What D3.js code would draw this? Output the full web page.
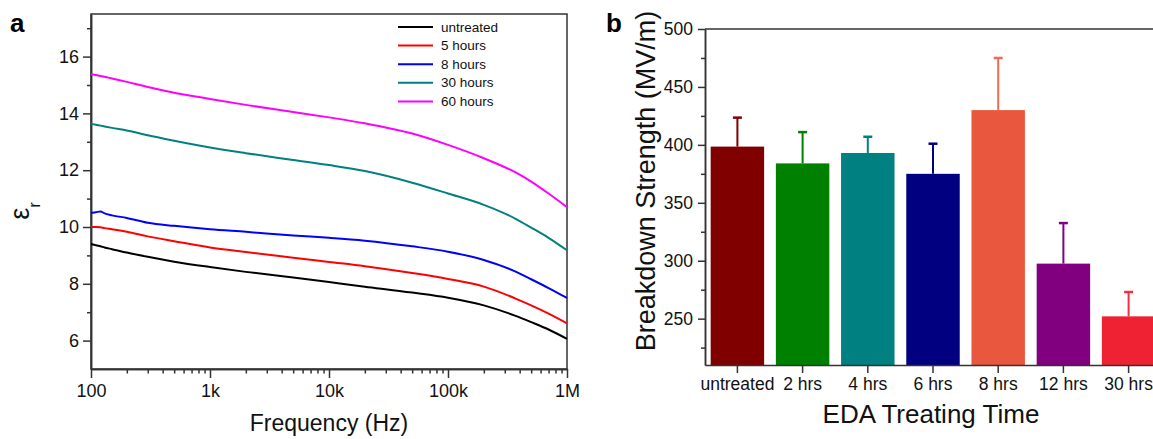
<!DOCTYPE html>
<html>
<head>
<meta charset="utf-8">
<script src="https://cdn.jsdelivr.net/npm/d3@7"></script>
<style>
  body { margin: 0; background: #fff; }
  svg { display: block; font-family: "Liberation Sans", Arial, sans-serif; }
</style>
</head>
<body>
<svg id="chart" width="1153" height="439"></svg>
<script>
// Panel a: relative permittivity vs frequency
var freqs = [100, 110, 120, 130, 150, 200, 300, 500, 1e3, 2e3, 5e3, 1e4, 2e4, 5e4, 1e5, 2e5, 3.7e5, 5e5, 7e5, 1e6];
var untreated = [9.40, 9.36, 9.32, 9.28, 9.22, 9.10, 8.95, 8.78, 8.59, 8.42, 8.22, 8.06, 7.90, 7.69, 7.51, 7.24, 6.87, 6.65, 6.39, 6.06];
var hours5 = [10.00, 10.00, 9.99, 9.96, 9.92, 9.83, 9.67, 9.50, 9.28, 9.12, 8.92, 8.77, 8.62, 8.38, 8.17, 7.90, 7.48, 7.24, 6.95, 6.61];
var hours8 = [10.49, 10.52, 10.55, 10.48, 10.41, 10.32, 10.15, 10.04, 9.92, 9.83, 9.70, 9.62, 9.52, 9.32, 9.13, 8.84, 8.43, 8.16, 7.85, 7.50];
var hours30 = [13.64, 13.60, 13.57, 13.54, 13.49, 13.40, 13.23, 13.04, 12.80, 12.60, 12.36, 12.18, 11.97, 11.56, 11.18, 10.78, 10.29, 9.98, 9.62, 9.18];
var hours60 = [15.38, 15.35, 15.32, 15.29, 15.23, 15.11, 14.93, 14.73, 14.51, 14.30, 14.05, 13.86, 13.65, 13.29, 12.89, 12.42, 11.92, 11.60, 11.18, 10.70];
var seriesNames = ["untreated", "5 hours", "8 hours", "30 hours", "60 hours"];
var seriesValues = [untreated, hours5, hours8, hours30, hours60];
var seriesColors = ["#000000", "#ff0000", "#0000ff", "#008080", "#ff00ff"];
var freqTicks = [1e2, 1e3, 1e4, 1e5, 1e6];
var freqLabels = ["100", "1k", "10k", "100k", "1M"];

// Panel b: breakdown strength
var treatTimes = ["untreated", "2 hrs", "4 hrs", "6 hrs", "8 hrs", "12 hrs", "30 hrs"];
var strength = [398.5, 384, 393, 375, 430, 297.5, 252];
var strengthErr = [25, 27, 14, 26, 45, 35, 21];
var barColors = ["#800000", "#008000", "#008080", "#000080", "#e8573e", "#800080", "#ee2233"];
var errColors = ["#800000", "#008000", "#008080", "#000080", "#f26b55", "#800080", "#f03242"];

var svg = d3.select("#chart"),
  axisColor = "#333";

/* ---------- panel a ---------- */
var ax = { left: 91, right: 567, top: 14, bottom: 369 };

var x = d3.scaleLog().domain([100, 1e6]).range([ax.left, ax.right]);
var y = d3.scaleLinear().domain([5, 17.5]).range([ax.bottom, ax.top]);

var ga = svg.append("g");

// minor ticks
var minorFreq = [];
for (var d = 100; d < 1e6; d *= 10) {
  for (var m = 2; m <= 9; m++) minorFreq.push(d * m);
}
ga.append("g")
  .attr("transform", "translate(0," + ax.bottom + ")")
  .call(d3.axisBottom(x).tickValues(minorFreq).tickFormat("").tickSize(4.5).tickSizeOuter(0));
ga.append("g")
  .attr("transform", "translate(" + ax.left + ",0)")
  .call(d3.axisLeft(y).tickValues([7, 9, 11, 13, 15, 17]).tickFormat("").tickSize(4).tickSizeOuter(0));

// major ticks
ga.append("g")
  .attr("transform", "translate(0," + ax.bottom + ")")
  .call(d3.axisBottom(x).tickValues(freqTicks)
    .tickFormat(function (v, i) { return freqLabels[i]; })
    .tickSize(9).tickSizeOuter(0).tickPadding(6));
ga.append("g")
  .attr("transform", "translate(" + ax.left + ",0)")
  .call(d3.axisLeft(y).tickValues([6, 8, 10, 12, 14, 16]).tickSize(8).tickSizeOuter(0).tickPadding(4));

ga.selectAll(".tick text").style("font-size", "18px").attr("fill", "#111");

// frame
ga.append("rect")
  .attr("x", ax.left).attr("y", ax.top)
  .attr("width", ax.right - ax.left).attr("height", ax.bottom - ax.top)
  .attr("fill", "none").attr("stroke", axisColor).attr("stroke-width", 1.5);

// curves
var line = d3.line()
  .x(function (d) { return x(d[0]); })
  .y(function (d) { return y(d[1]); })
  .curve(d3.curveMonotoneX);

seriesValues.forEach(function (vals, i) {
  ga.append("path")
    .datum(freqs.map(function (f, k) { return [f, vals[k]]; }))
    .attr("fill", "none")
    .attr("stroke", seriesColors[i])
    .attr("stroke-width", 2)
    .attr("d", line);
});

// legend
var legend = ga.append("g").attr("transform", "translate(398,27)");
seriesNames.forEach(function (name, i) {
  var row = legend.append("g").attr("transform", "translate(0," + (i * 18.6) + ")");
  row.append("line").attr("x1", 0).attr("x2", 35).attr("y1", 0).attr("y2", 0)
    .attr("stroke", seriesColors[i]).attr("stroke-width", 2);
  row.append("text").attr("x", 43).attr("y", 4.5)
    .style("font-size", "13.5px").attr("fill", "#111").text(name);
});

// axis titles
ga.append("text")
  .attr("x", (ax.left + ax.right) / 2).attr("y", 431)
  .attr("text-anchor", "middle").style("font-size", "23px").attr("fill", "#111")
  .text("Frequency (Hz)");

var eps = ga.append("text")
  .attr("transform", "translate(29,211) rotate(-90)")
  .attr("text-anchor", "middle").attr("fill", "#111");
eps.append("tspan").style("font-size", "27px").text("ε");
eps.append("tspan").style("font-size", "17px").attr("dy", 11).text("r");

ga.append("text").attr("x", 10).attr("y", 32)
  .style("font-size", "26px").style("font-weight", "bold").text("a");

/* ---------- panel b ---------- */
var bx = { left: 705, right: 1161, top: 29, bottom: 365 };

var xb = d3.scaleBand().domain(treatTimes).range([bx.left, bx.right])
  .paddingInner(0.18).paddingOuter(0.087);
var yb = d3.scaleLinear().domain([210, 500]).range([bx.bottom, bx.top]);

var gb = svg.append("g");

// bars
gb.selectAll("rect.bar")
  .data(treatTimes)
  .enter().append("rect")
  .attr("class", "bar")
  .attr("x", function (d) { return xb(d); })
  .attr("width", xb.bandwidth())
  .attr("y", function (d, i) { return yb(strength[i]); })
  .attr("height", function (d, i) { return bx.bottom - yb(strength[i]); })
  .attr("fill", function (d, i) { return barColors[i]; });

// error bars (upper only)
var eb = gb.selectAll("g.err")
  .data(treatTimes)
  .enter().append("g").attr("class", "err");
eb.append("line")
  .attr("x1", function (d) { return xb(d) + xb.bandwidth() / 2; })
  .attr("x2", function (d) { return xb(d) + xb.bandwidth() / 2; })
  .attr("y1", function (d, i) { return yb(strength[i]); })
  .attr("y2", function (d, i) { return yb(strength[i] + strengthErr[i]); })
  .attr("stroke", function (d, i) { return errColors[i]; })
  .attr("stroke-width", 2);
eb.append("line")
  .attr("x1", function (d) { return xb(d) + xb.bandwidth() / 2 - 4.5; })
  .attr("x2", function (d) { return xb(d) + xb.bandwidth() / 2 + 4.5; })
  .attr("y1", function (d, i) { return yb(strength[i] + strengthErr[i]); })
  .attr("y2", function (d, i) { return yb(strength[i] + strengthErr[i]); })
  .attr("stroke", function (d, i) { return errColors[i]; })
  .attr("stroke-width", 2.5);

// axes
gb.append("g")
  .attr("transform", "translate(" + bx.left + ",0)")
  .call(d3.axisLeft(yb).tickValues([225, 275, 325, 375, 425, 475]).tickFormat("").tickSize(4).tickSizeOuter(0));
gb.append("g")
  .attr("transform", "translate(" + bx.left + ",0)")
  .call(d3.axisLeft(yb).tickValues([250, 300, 350, 400, 450, 500]).tickSize(7).tickSizeOuter(0).tickPadding(5));
gb.append("g")
  .attr("transform", "translate(0," + bx.bottom + ")")
  .call(d3.axisBottom(xb).tickSize(8).tickSizeOuter(0).tickPadding(5));

gb.selectAll(".tick text").style("font-size", "17.5px").attr("fill", "#111");

// top frame line
gb.append("line")
  .attr("x1", bx.left).attr("x2", bx.right)
  .attr("y1", yb(500)).attr("y2", yb(500))
  .attr("stroke", axisColor).attr("stroke-width", 1.5);

gb.append("text")
  .attr("x", 931).attr("y", 423)
  .attr("text-anchor", "middle").style("font-size", "26px").attr("fill", "#111")
  .text("EDA Treating Time");

gb.append("text")
  .attr("transform", "translate(655,181) rotate(-90)")
  .attr("text-anchor", "middle").style("font-size", "27px").attr("fill", "#111")
  .text("Breakdown Strength (MV/m)");

gb.append("text").attr("x", 606).attr("y", 32)
  .style("font-size", "26px").style("font-weight", "bold").text("b");

svg.selectAll(".domain, .tick line").attr("stroke", axisColor).attr("stroke-width", 1.5);
</script>
</body>
</html>
